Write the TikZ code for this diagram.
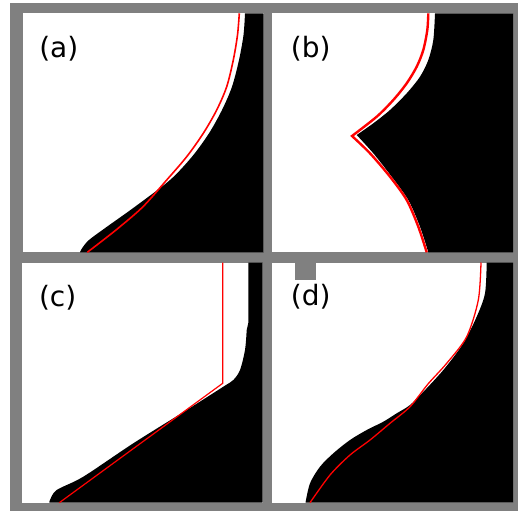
\documentclass[tikz,border=0pt]{standalone}
\usepackage{fontspec}
\setsansfont{DejaVu Sans}
\definecolor{framegray}{RGB}{128,128,128}

\begin{document}
\begin{tikzpicture}[x=1pt, y=-1pt,
  panel/.style={fill=white},
  blackfill/.style={fill=black},
  fitline/.style={red, line width=1.4pt, line join=miter},
  lbl/.style={font=\sffamily\fontsize{28}{30}\selectfont, inner sep=0pt}]
\useasboundingbox (0,0) rectangle (518,511);
% frame
\fill[framegray] (10,3) rectangle (518,511);
% panels
\fill[panel] (22.5,13.3) rectangle (263.5,252.3);
\fill[panel] (271.7,13.3) rectangle (513,252.3);
\fill[panel] (22,262.5) rectangle (262.7,502.7);
\fill[panel] (271.7,262.5) rectangle (513,502.7);
% (a) black region and fit
\fill[blackfill] plot[smooth] coordinates {(245,13.3) (243.5,35) (239,60) (232,86.7) (222,110)
  (209,133.3) (192,156.7) (170,180) (135,206.7) (107,226.7) (89,240) (82,248.3) (80,252.3)}
  -- (263.5,252.3) -- (263.5,13.3) -- cycle;
\draw[fitline, line width=1.6pt] plot[smooth] coordinates {(239.3,13.3) (237.5,35) (233.3,60) (226.7,86.7)
  (216.7,110) (203.3,133.3) (186.7,156.7) (166.7,180) (143,206.7) (120,226.7) (103.3,240) (87.3,252.3)};
% (b) black region and fit
\fill[blackfill] plot[smooth] coordinates {(435,13.3) (433.3,40) (428.3,60) (420,76.7) (406.7,93.3)
  (390,110) (373.3,123.3) (356.7,135)}
  -- plot[smooth] coordinates {(356.7,135) (373.3,153.3) (391.7,176.7) (408.3,200) (420,226.7) (428.3,252.3)}
  -- (513,252.3) -- (513,13.3) -- cycle;
\draw[fitline, line width=2.4pt] plot[smooth] coordinates {(428.3,13.3) (427.3,30) (423.3,50) (416.7,66.7)
  (406.7,83.3) (393.3,100) (376.7,116.7) (352,136)}
  -- plot[smooth] coordinates {(352,136) (370,153.3) (390,176.7) (406.7,200) (418.3,226.7) (426.7,252.3)};
% (c) black region and fit
\fill[blackfill] (248.3,262.5) -- (248.3,323)
  -- plot[smooth] coordinates {(246.7,330) (245,350) (240,370) (233.3,380) (223.3,386.7) (186.7,410)
  (133.3,443.3) (83.3,476.7) (56.7,490) (50,500) (49.3,502.7)}
  -- (262.7,502.7) -- (262.7,262.5) -- cycle;
\draw[fitline, line width=1.2pt] (222.7,262.5) -- (222.7,383.3) -- (59.3,502.7);
% (d) black region and fit
\fill[blackfill] plot[smooth] coordinates {(486.7,262.5) (485,293.3) (476.7,316.7) (463.3,343.3) (445,368)
  (426,389) (410,405) (396.7,413.3) (383.3,421.7) (366.7,430) (350,440) (333.3,453.3) (320,466.7)
  (310,483.3) (305.5,502.7)}
  -- (513,502.7) -- (513,262.5) -- cycle;
\draw[fitline, line width=1.3pt] plot[smooth] coordinates {(481,262.5) (478.3,300) (466.7,336.7) (446.7,363.3)
  (428,384) (410,406.7) (390,423.3) (370,440) (350,455) (330,475) (310,502.7)};
% labels
\node[lbl] (la) at (58.8,49.2) {(a)};
\node[lbl] (lb) at (310.8,49.2) {(b)};
\node[lbl] (lc) at (57.7,297.5) {(c)};
\node[lbl] (ld) at (310.7,296.3) {(d)};
% small square
\fill[framegray] (295,262) rectangle (315.5,280);
\end{tikzpicture}
\end{document}
